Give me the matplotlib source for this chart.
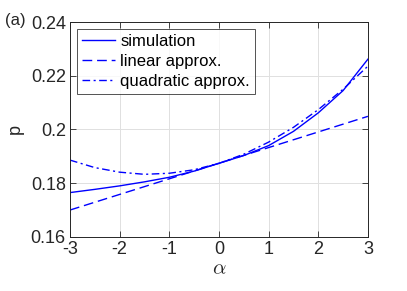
import numpy as np
import matplotlib
matplotlib.use("Agg")
import matplotlib.pyplot as plt

plt.rcParams['font.family'] = ['Liberation Sans', 'DejaVu Sans']
plt.rcParams['mathtext.fontset'] = 'cm'
plt.rcParams['axes.unicode_minus'] = False

alpha = [-3, -2.5, -2, -1.5, -1, -0.5, 0, 0.5, 1, 1.5, 2, 2.5, 3]
p_sim = [0.1765, 0.1777, 0.1790, 0.1805, 0.1822, 0.1845, 0.1874, 0.1903,
         0.1940, 0.1993, 0.2062, 0.2145, 0.2262]
alpha_lin = [-3, 3]
p_lin = [0.1700, 0.2049]
p_quad = [0.1886, 0.1858, 0.1841, 0.1833, 0.1837, 0.1850, 0.1874, 0.1908,
          0.1953, 0.2008, 0.2074, 0.2150, 0.2236]

col = (0.0, 0.0, 1.0)
dark = (0.15, 0.15, 0.15)

fig = plt.figure(figsize=(4.07, 2.91), dpi=100)
ax = fig.add_axes([0.172, 0.186, 0.732, 0.738])

ax.plot(alpha, p_sim, '-', color=col, lw=1.0, label='simulation')
ax.plot(alpha_lin, p_lin, '--', color=col, lw=1.0, dashes=(7, 3.5), label='linear approx.')
ax.plot(alpha, p_quad, '-.', color=col, lw=1.0, dashes=(5.5, 2.5, 1.5, 2.5), label='quadratic approx.')

ax.set_xlim(-3, 3)
ax.set_ylim(0.16, 0.24)
ax.set_xticks([-3, -2, -1, 0, 1, 2, 3])
ax.set_yticks([0.16, 0.18, 0.2, 0.22, 0.24])
ax.set_yticklabels(['0.16', '0.18', '0.2', '0.22', '0.24'])
ax.grid(True, color=(0.88, 0.88, 0.88), lw=0.7)
ax.set_axisbelow(True)
ax.tick_params(direction='in', length=4, width=0.6, colors=dark, labelsize=13,
               top=True, right=True, pad=3)
for s in ax.spines.values():
    s.set_color(dark)
    s.set_linewidth(0.7)

ax.set_xlabel(r'$\alpha$', fontsize=15, color=dark, labelpad=1)
ax.set_ylabel('p', fontsize=13, color=dark, labelpad=5)

leg = ax.legend(loc='upper left', fontsize=12, frameon=True, fancybox=False,
                edgecolor=dark, handlelength=2.0, handletextpad=0.3,
                borderpad=0.3, labelspacing=0.3, borderaxespad=0.42)
leg.get_frame().set_linewidth(0.7)

fig.text(0.012, 0.931, '(a)', fontsize=12, color=dark, va='center')

fig.savefig('out.png', dpi=100)
